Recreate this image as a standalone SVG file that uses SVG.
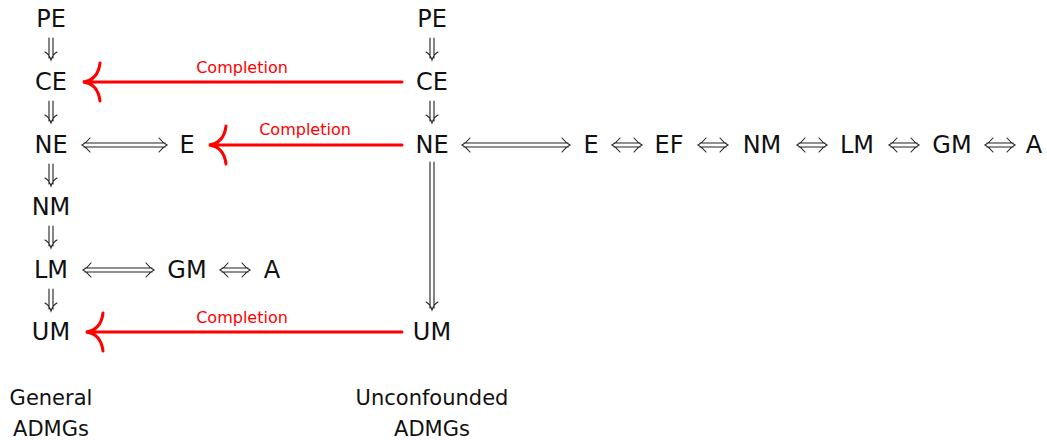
<svg xmlns="http://www.w3.org/2000/svg" width="1047" height="440" viewBox="0 0 1047 440">
  <style>
    .n { font-family: "DejaVu Sans", sans-serif; font-size: 24px; fill: #111; text-anchor: middle; }
    .cap { font-family: "DejaVu Sans", sans-serif; font-size: 21px; fill: #111; text-anchor: middle; }
    .lbl { font-family: "DejaVu Sans", sans-serif; font-size: 16px; fill: #ff0000; text-anchor: middle; }
    .dbl { fill: none; stroke: #222; stroke-width: 1.1; stroke-linecap: round; }
    .red { fill: none; stroke: #ff0000; stroke-width: 3; stroke-linecap: round; }
  </style>
  <rect width="1047" height="440" fill="#fff"/>

  <!-- general ADMGs column -->
  <g id="g-PE"><text class="n" x="51" y="27">PE</text></g>
  <g id="g-CE"><text class="n" x="51" y="90">CE</text></g>
  <g id="g-NE"><text class="n" x="51" y="153">NE</text></g>
  <g id="g-E"><text class="n" x="187" y="153">E</text></g>
  <g id="g-NM"><text class="n" x="51" y="215">NM</text></g>
  <g id="g-LM"><text class="n" x="51" y="278">LM</text></g>
  <g id="g-GM"><text class="n" x="187" y="278">GM</text></g>
  <g id="g-A"><text class="n" x="272" y="278">A</text></g>
  <g id="g-UM"><text class="n" x="51" y="340">UM</text></g>

  <!-- unconfounded ADMGs column -->
  <g id="u-PE"><text class="n" x="432" y="27">PE</text></g>
  <g id="u-CE"><text class="n" x="432" y="90">CE</text></g>
  <g id="u-NE"><text class="n" x="432" y="153">NE</text></g>
  <g id="u-E"><text class="n" x="591" y="153">E</text></g>
  <g id="u-EF"><text class="n" x="669" y="153">EF</text></g>
  <g id="u-NM"><text class="n" x="762" y="153">NM</text></g>
  <g id="u-LM"><text class="n" x="857" y="153">LM</text></g>
  <g id="u-GM"><text class="n" x="952" y="153">GM</text></g>
  <g id="u-A"><text class="n" x="1034" y="153">A</text></g>
  <g id="u-UM"><text class="n" x="432" y="340">UM</text></g>

  <!-- column captions -->
  <g id="cap-general">
    <text class="cap" x="51" y="405">General</text>
    <text class="cap" x="51" y="436">ADMGs</text>
  </g>
  <g id="cap-unconfounded">
    <text class="cap" x="432" y="405">Unconfounded</text>
    <text class="cap" x="432" y="436">ADMGs</text>
  </g>

  <g id="connectors">
    <!-- implications down the general column -->
    <path class="dbl" d="M49,38 V58 M53,38 V58 M45,52 Q49,54 51,60 Q53,54 57,52"/>
    <path class="dbl" d="M49,101 V121 M53,101 V121 M45,115 Q49,117 51,123 Q53,117 57,115"/>
    <path class="dbl" d="M49,164 V184 M53,164 V184 M45,178 Q49,180 51,186 Q53,180 57,178"/>
    <path class="dbl" d="M49,226 V246 M53,226 V246 M45,240 Q49,242 51,248 Q53,242 57,240"/>
    <path class="dbl" d="M49,289 V309 M53,289 V309 M45,303 Q49,305 51,311 Q53,305 57,303"/>

    <!-- implications down the unconfounded column -->
    <path class="dbl" d="M430,38 V58 M434,38 V58 M426,52 Q430,54 432,60 Q434,54 438,52"/>
    <path class="dbl" d="M430,101 V121 M434,101 V121 M426,115 Q430,117 432,123 Q434,117 438,115"/>
    <path class="dbl" d="M430,162 V308 M434,162 V308 M426,302 Q430,304 432,310 Q434,304 438,302"/>

    <!-- equivalences, general row NE -->
    <path class="dbl" d="M84,143 H165 M84,147 H165 M90,138 Q86,143 82,145 Q86,147 90,152 M159,138 Q163,143 167,145 Q163,147 159,152"/>
    <!-- equivalences, general row LM -->
    <path class="dbl" d="M85,268 H152 M85,272 H152 M91,263 Q87,268 83,270 Q87,272 91,277 M146,263 Q150,268 154,270 Q150,272 146,277"/>
    <path class="dbl" d="M222,268 H248 M222,272 H248 M228,263 Q224,268 220,270 Q224,272 228,277 M242,263 Q246,268 250,270 Q246,272 242,277"/>

    <!-- equivalences, unconfounded row NE -->
    <path class="dbl" d="M464,143 H568 M464,147 H568 M470,138 Q466,143 462,145 Q466,147 470,152 M562,138 Q566,143 570,145 Q566,147 562,152"/>
    <path class="dbl" d="M614,143 H640 M614,147 H640 M620,138 Q616,143 612,145 Q616,147 620,152 M634,138 Q638,143 642,145 Q638,147 634,152"/>
    <path class="dbl" d="M700,143 H726 M700,147 H726 M706,138 Q702,143 698,145 Q702,147 706,152 M720,138 Q724,143 728,145 Q724,147 720,152"/>
    <path class="dbl" d="M799,143 H825 M799,147 H825 M805,138 Q801,143 797,145 Q801,147 805,152 M819,138 Q823,143 827,145 Q823,147 819,152"/>
    <path class="dbl" d="M891,143 H917 M891,147 H917 M897,138 Q893,143 889,145 Q893,147 897,152 M911,138 Q915,143 919,145 Q915,147 911,152"/>
    <path class="dbl" d="M987,143 H1013 M987,147 H1013 M993,138 Q989,143 985,145 Q989,147 993,152 M1007,138 Q1011,143 1015,145 Q1011,147 1007,152"/>

    <!-- completion maps -->
    <path class="red" d="M402,82 H84 M100,63 Q98,80 83,82 Q98,84 100,101"/>
    <text class="lbl" x="242" y="73">Completion</text>

    <path class="red" d="M402,145 H210 M226,126 Q224,143 209,145 Q224,147 226,164"/>
    <text class="lbl" x="305" y="135">Completion</text>

    <path class="red" d="M402,332 H87 M103,313 Q101,330 86,332 Q101,334 103,351"/>
    <text class="lbl" x="242" y="323">Completion</text>
  </g>
</svg>
